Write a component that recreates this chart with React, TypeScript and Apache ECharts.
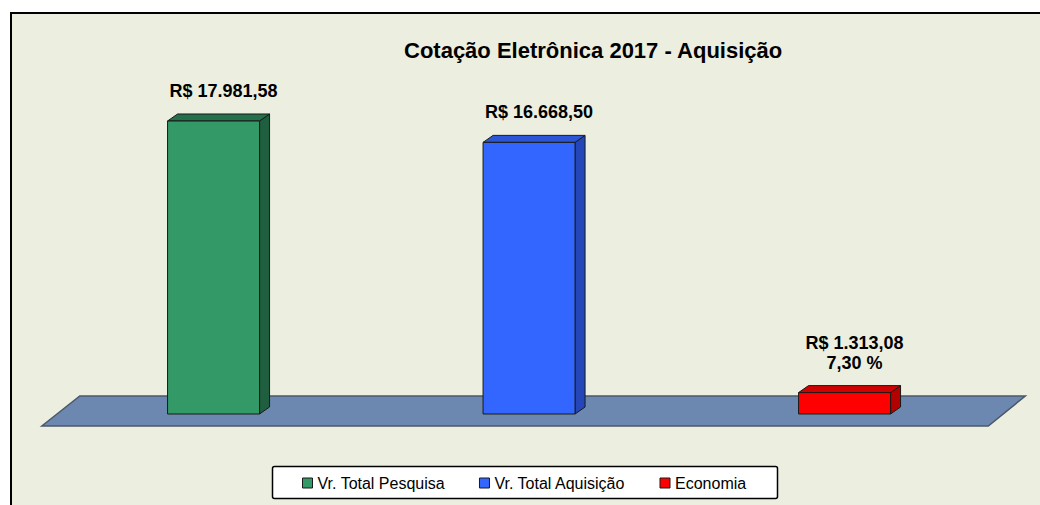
import React, { useEffect, useRef } from "react";
import * as echarts from "echarts";

const categories = ["Vr. Total Pesquisa", "Vr. Total Aquisição", "Economia"];
const values = [17981.58, 16668.5, 1313.08];
const frontColors = ["#339966", "#3366FF", "#FF0000"];
const sideColors = ["#1F5E3E", "#2446B8", "#B30000"];
const topColors = ["#24704B", "#2B56D6", "#D00000"];
const titleText = "Cotação Eletrônica 2017 - Aquisição";

const FONT = '"Liberation Sans", Arial, sans-serif';

function brl(v: number): string {
  const [i, d] = v.toFixed(2).split(".");
  return "R$ " + i.replace(/\B(?=(\d{3})+(?!\d))/g, ".") + "," + d;
}
function pct(v: number): string {
  return v.toFixed(2).replace(".", ",") + " %";
}

const labelTexts = values.map((v, i) =>
  i === 2 ? brl(v) + "\n" + pct((v / values[0]) * 100) : brl(v)
);

export default function App() {
  const ref = useRef<HTMLDivElement>(null);
  useEffect(() => {
    document.body.style.margin = "0";
    const chart = echarts.init(ref.current!, null, { renderer: "svg" });

    const floorSeries: any = {
      type: "custom",
      name: "floor",
      z: 1,
      silent: true,
      data: [[0, 0]],
      renderItem: (params: any, api: any) => {
        const cs = params.coordSys;
        const zero = api.coord([0, 0])[1];
        const l = cs.x;
        const r = cs.x + cs.width;
        return {
          type: "polygon",
          shape: {
            points: [
              [l - 14, zero + 12],
              [l + 24, zero - 18],
              [r + 23, zero - 18],
              [r - 14, zero + 12],
            ],
          },
          style: { fill: "#6C88B0", stroke: "#4A5868", lineWidth: 1.5 },
        };
      },
    };

    const barSeries = categories.map((name, idx) => ({
      type: "custom",
      name,
      z: 3,
      itemStyle: { color: frontColors[idx] },
      data: [[idx, values[idx]]],
      renderItem: (params: any, api: any) => {
        const cat = api.value(0);
        const val = api.value(1);
        const top = api.coord([cat, val]);
        const base = api.coord([cat, 0]);
        const w = 92;
        const dx = 10;
        const dy = -7;
        const x0 = top[0] - w / 2;
        const x1 = top[0] + w / 2;
        const yT = top[1];
        const yB = base[1];
        const edge = { stroke: "#1A1A1A", lineWidth: 1 };
        return {
          type: "group",
          children: [
            {
              type: "polygon",
              shape: {
                points: [
                  [x1, yT],
                  [x1 + dx, yT + dy],
                  [x1 + dx, yB + dy],
                  [x1, yB],
                ],
              },
              style: { fill: sideColors[idx], ...edge },
            },
            {
              type: "polygon",
              shape: {
                points: [
                  [x0, yT],
                  [x0 + dx, yT + dy],
                  [x1 + dx, yT + dy],
                  [x1, yT],
                ],
              },
              style: { fill: topColors[idx], ...edge },
            },
            {
              type: "rect",
              shape: { x: x0, y: yT, width: w, height: yB - yT },
              style: { fill: frontColors[idx], ...edge },
            },
            {
              type: "text",
              x: top[0] + 10,
              y: yT - 20,
              style: {
                text: labelTexts[idx],
                fill: "#000",
                align: "center",
                verticalAlign: "bottom",
                font: "bold 18px " + FONT,
                lineHeight: 20,
              },
            },
          ],
        };
      },
    }));

    chart.setOption({
      animation: false,
      backgroundColor: "#FFFFFF",
      title: {
        text: titleText,
        left: 404,
        top: 39,
        padding: 0,
        textStyle: {
          fontSize: 22,
          fontWeight: "bold",
          fontFamily: FONT,
          color: "#000",
        },
      },
      graphic: {
        elements: [
          {
            type: "rect",
            z: -10,
            shape: { x: 11, y: 13, width: 1100, height: 600 },
            style: { fill: "#ECEEDF", stroke: "#000", lineWidth: 2 },
          },
          {
            type: "rect",
            z: -5,
            shape: { x: 272.5, y: 466.5, width: 505, height: 32, r: 2 },
            style: { fill: "#FFFFFF", stroke: "#000", lineWidth: 1.5 },
          },
        ],
      },
      legend: {
        data: categories,
        left: 302,
        top: 475,
        padding: 0,
        itemGap: 34,
        itemWidth: 10,
        itemHeight: 10,
        icon: "rect",
        itemStyle: { borderColor: "#1A1A1A", borderWidth: 1 },
        textStyle: { fontSize: 16, fontFamily: FONT, color: "#000" },
      },
      grid: { left: 55.8, right: 37.7, top: 88.1, bottom: 91 },
      xAxis: {
        type: "category",
        data: categories,
        show: false,
        boundaryGap: true,
      },
      yAxis: { type: "value", min: 0, max: 20000, show: false },
      series: [floorSeries, ...barSeries],
    });
    return () => chart.dispose();
  }, []);
  return <div ref={ref} style={{ width: 1040, height: 505 }} />;
}
